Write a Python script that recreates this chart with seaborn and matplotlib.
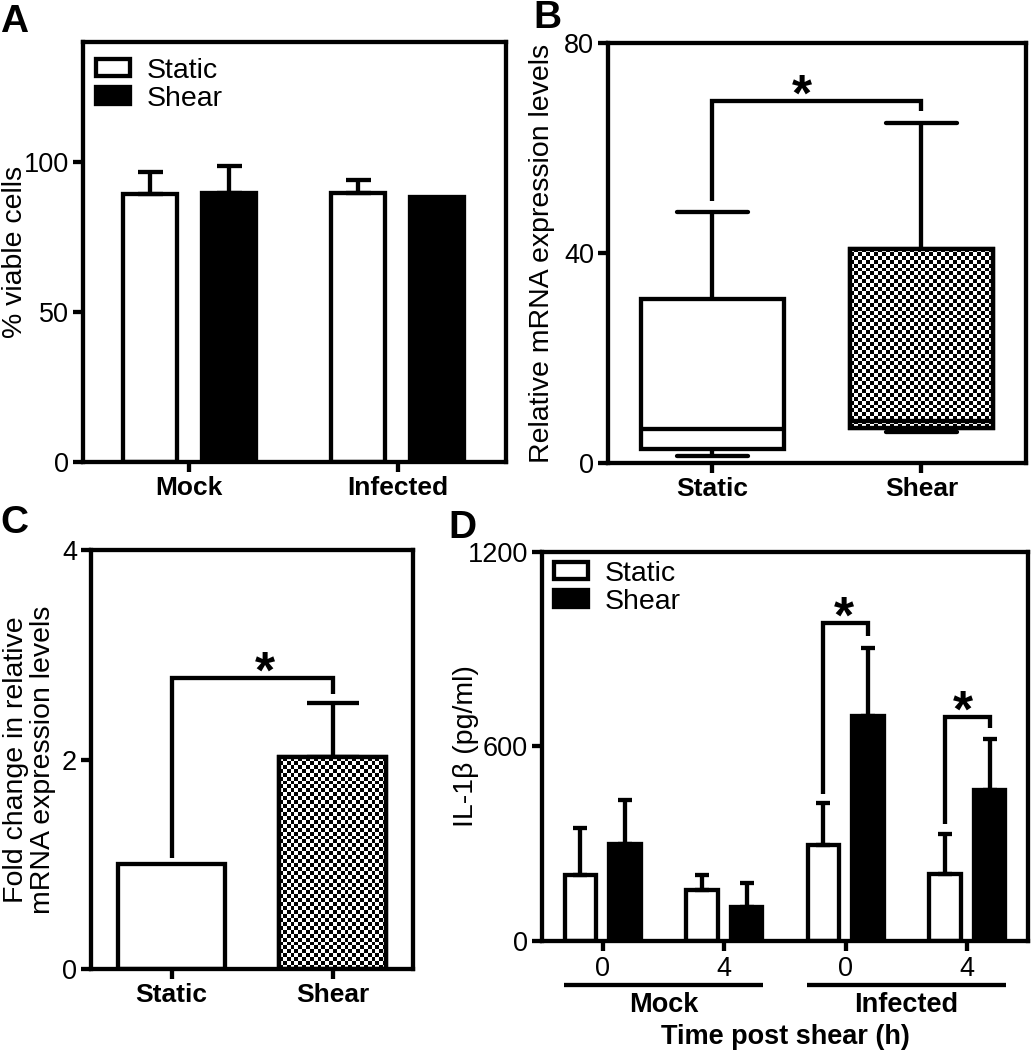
import numpy as np
import pandas as pd
import matplotlib
matplotlib.use("Agg")
import matplotlib.pyplot as plt
import matplotlib.transforms as mtransforms
from matplotlib.patches import PathPatch
import seaborn as sns

# ------------------------------------
# Data
# ------------------------------------

treatments = ["Static", "Shear"]

# A: % viable cells (mean, SEM)
conditions_A = ["Mock", "Infected"]
static_A = [89.3, 89.6]
static_A_err = [7.4, 4.3]
shear_A = [89.8, 88.4]
shear_A_err = [9.0, 0.0]

# B: relative mRNA expression (min, q1, median, q3, max)
groups_B = ["Static", "Shear"]
static_B = [1.3, 2.7, 6.5, 31.2, 47.8]
shear_B = [6.0, 6.6, 8.0, 40.8, 64.7]
sig_B = [50, 69, 67]

# C: fold change (mean, SEM)
groups_C = ["Static", "Shear"]
mean_C = [1.0, 2.02]
err_C = [0.0, 0.52]
sig_C = [1.06, 2.78, 2.63]

# D: IL-1beta (mean, SEM)
infection_D = ["Mock", "Mock", "Infected", "Infected"]
time_D = ["0", "4", "0", "4"]
static_D = [203, 156, 295, 206]
static_D_err = [146, 49, 130, 125]
shear_D = [300, 105, 693, 466]
shear_D_err = [135, 73, 210, 157]
sig_D = {2: [452, 982, 941], 3: [360, 690, 657]}

# ------------------------------------
# Style
# ------------------------------------

sns.set_theme(style="ticks", rc={
    "axes.edgecolor": "black",
    "axes.labelcolor": "black",
    "text.color": "black",
    "xtick.color": "black",
    "ytick.color": "black",
    "axes.facecolor": "white",
    "figure.facecolor": "white",
})
plt.rcParams["font.family"] = ["Liberation Sans", "DejaVu Sans"]

LW = 3.1
palette = {"Static": "white", "Shear": "black"}


def style_axes(ax):
    for s in ax.spines.values():
        s.set_linewidth(LW)
        s.set_color("black")
    ax.tick_params(axis="both", direction="out", length=7, width=LW,
                   labelsize=19.5, pad=3, color="black")


def bold_xticks(ax, size=19):
    for t in ax.get_xticklabels():
        t.set_fontweight("bold")
        t.set_fontsize(size)


def bar_centers(container):
    return [r.get_x() + r.get_width() / 2 for r in container]


def add_errors(ax, centers, values, errs, capsize):
    keep = [i for i, e in enumerate(errs) if e > 0]
    ax.errorbar(
        [centers[i] for i in keep],
        [values[i] for i in keep],
        yerr=[[0] * len(keep), [errs[i] for i in keep]],
        fmt="none", ecolor="black", elinewidth=LW,
        capsize=capsize, capthick=LW, zorder=1
    )


def bracket(ax, x0, x1, ys, star_frac=0.5):
    y0, ytop, y1 = ys
    ax.plot([x0, x0, x1, x1], [y0, ytop, ytop, y1], color="black",
            lw=LW, solid_joinstyle="miter", solid_capstyle="butt",
            clip_on=False, zorder=3)
    ax.annotate("*", xy=(x0 + star_frac * (x1 - x0), ytop),
                xytext=(0, -7), textcoords="offset points",
                ha="center", va="baseline", fontsize=37, fontweight="bold")


def checker(ax, patch, cell=3.9):
    bb = patch.get_path().get_extents(patch.get_patch_transform())
    disp = ax.transData.transform([[bb.x0, bb.y0], [bb.x1, bb.y1]])
    nx = max(int(round(abs(disp[1, 0] - disp[0, 0]) / cell)), 2)
    ny = max(int(round(abs(disp[1, 1] - disp[0, 1]) / cell)), 2)
    grid = (np.add.outer(np.arange(ny), np.arange(nx)) % 2).astype(float)
    im = ax.imshow(grid, cmap="gray", vmin=0, vmax=1, origin="lower",
                   extent=(bb.x0, bb.x1, bb.y0, bb.y1), aspect="auto",
                   interpolation="nearest", zorder=patch.get_zorder() + 0.01)
    im.set_clip_path(patch)
    ax.add_patch(PathPatch(patch.get_path(), transform=patch.get_transform(),
                           fill=False, edgecolor="black",
                           lw=patch.get_linewidth(),
                           zorder=patch.get_zorder() + 0.02))


def legend(ax, anchor):
    ax.legend(handles=[c[0] for c in ax.containers], labels=treatments,
              loc="upper left", bbox_to_anchor=anchor, frameon=False,
              fontsize=20.5, handlelength=1.2, handleheight=0.55,
              handletextpad=0.6, labelspacing=0.08, borderaxespad=0,
              borderpad=0)


fig = plt.figure(figsize=(10.31, 10.5), dpi=100)

axA = fig.add_axes([0.0805, 0.560, 0.4103, 0.400])
axB = fig.add_axes([0.5897, 0.559, 0.4054, 0.400])
axC = fig.add_axes([0.0883, 0.0771, 0.3123, 0.399])
axD = fig.add_axes([0.5257, 0.1038, 0.4714, 0.3705])

# ------------------------------------
# A
# ------------------------------------

df_A = pd.DataFrame({
    "condition": conditions_A * 2,
    "treatment": ["Static"] * 2 + ["Shear"] * 2,
    "value": static_A + shear_A,
})

sns.barplot(data=df_A, x="condition", y="value", hue="treatment",
            order=conditions_A, hue_order=treatments, palette=palette,
            edgecolor="black", linewidth=LW, width=0.76, gap=0.32,
            errorbar=None, ax=axA)

for cont, vals, errs in zip(axA.containers, [static_A, shear_A],
                            [static_A_err, shear_A_err]):
    add_errors(axA, bar_centers(cont), vals, errs, capsize=9)

axA.set(xlim=(-0.51, 1.52), ylim=(0, 140), yticks=[0, 50, 100], xlabel="")
axA.set_ylabel("% viable cells", fontsize=20.5, va="center")
axA.yaxis.set_label_coords(-0.161, 0.5)
legend(axA, (0.03, 0.963))
style_axes(axA)
bold_xticks(axA)

# ------------------------------------
# B
# ------------------------------------

df_B = pd.DataFrame({
    "group": ["Static"] * len(static_B) + ["Shear"] * len(shear_B),
    "value": static_B + shear_B,
})

sns.boxplot(data=df_B, x="group", y="value", order=groups_B,
            whis=(0, 100), width=0.68, color="white", linecolor="black",
            linewidth=LW, ax=axB)

axB.set(xlim=(-0.5, 1.5), ylim=(0, 80), yticks=[0, 40, 80], xlabel="")
axB.set_ylabel("Relative mRNA expression levels", fontsize=20.5, va="center")
axB.yaxis.set_label_coords(-0.158, 0.5)
style_axes(axB)
bold_xticks(axB)

boxes = list(axB.patches)
checker(axB, boxes[1])
box_x = []
for p in boxes:
    bb = p.get_path().get_extents(p.get_patch_transform())
    box_x.append((bb.x0 + bb.x1) / 2)
bracket(axB, box_x[0], box_x[1], sig_B, star_frac=0.43)

# ------------------------------------
# C
# ------------------------------------

df_C = pd.DataFrame({"group": groups_C, "value": mean_C})

sns.barplot(data=df_C, x="group", y="value", hue="group", order=groups_C,
            hue_order=groups_C, palette={"Static": "white", "Shear": "white"},
            edgecolor="black", linewidth=LW, width=0.67, errorbar=None,
            legend=False, ax=axC)

axC.set(xlim=(-0.5, 1.5), ylim=(0, 4), yticks=[0, 2, 4], xlabel="")
axC.set_ylabel("Fold change in relative\nmRNA expression levels",
               fontsize=20.5, va="center", linespacing=1.05)
axC.yaxis.set_label_coords(-0.19, 0.5)
style_axes(axC)
bold_xticks(axC)

bars_C = sorted([r for c in axC.containers for r in c], key=lambda r: r.get_x())
centers_C = bar_centers(bars_C)
checker(axC, bars_C[1])
add_errors(axC, centers_C, mean_C, err_C, capsize=19)
bracket(axC, centers_C[0], centers_C[1], sig_C, star_frac=0.58)

# ------------------------------------
# D
# ------------------------------------

keys_D = [f"{g} {t}" for g, t in zip(infection_D, time_D)]

df_D = pd.DataFrame({
    "key": keys_D * 2,
    "treatment": ["Static"] * 4 + ["Shear"] * 4,
    "value": static_D + shear_D,
})

sns.barplot(data=df_D, x="key", y="value", hue="treatment", order=keys_D,
            hue_order=treatments, palette=palette, edgecolor="black",
            linewidth=LW, width=0.74, gap=0.30, errorbar=None, ax=axD)

centers_D = [bar_centers(c) for c in axD.containers]
for cents, vals, errs in zip(centers_D, [static_D, shear_D],
                             [static_D_err, shear_D_err]):
    add_errors(axD, cents, vals, errs, capsize=4.8)

for idx, ys in sig_D.items():
    bracket(axD, centers_D[0][idx], centers_D[1][idx], ys,
            star_frac=0.46 if idx == 2 else 0.41)

axD.set(xlim=(-0.5, 3.5), ylim=(0, 1200), yticks=[0, 600, 1200])
axD.set_xticks(range(len(time_D)))
axD.set_xticklabels(time_D)
axD.set_ylabel("IL-1\u03b2 (pg/ml)", fontsize=20.5, va="center")
axD.yaxis.set_label_coords(-0.156, 0.5)
axD.set_xlabel("Time post shear (h)", fontsize=19.5, fontweight="bold",
               va="center")
axD.xaxis.set_label_coords(0.5, -0.247)
legend(axD, (0.024, 0.978))
style_axes(axD)
axD.tick_params(axis="x", pad=4)

trans = mtransforms.blended_transform_factory(axD.transData, axD.transAxes)
for g in dict.fromkeys(infection_D):
    pos = [i for i, v in enumerate(infection_D) if v == g]
    mid = np.mean(pos)
    axD.plot([mid - 0.82, mid + 0.82], [-0.113, -0.113], color="black",
             lw=LW, transform=trans, clip_on=False, solid_capstyle="butt")
    axD.text(mid, -0.165, g, transform=trans, ha="center", va="center",
             fontsize=19.5, fontweight="bold")

# ------------------------------------
# Panel letters
# ------------------------------------

for letter, (px, py) in {"A": (0, 32), "B": (533, 28),
                         "C": (0, 533), "D": (448, 538)}.items():
    fig.text(px / 1031, 1 - py / 1050, letter, ha="left", va="baseline",
             fontsize=28, fontweight="bold")

fig.savefig("out.png", dpi=100)
